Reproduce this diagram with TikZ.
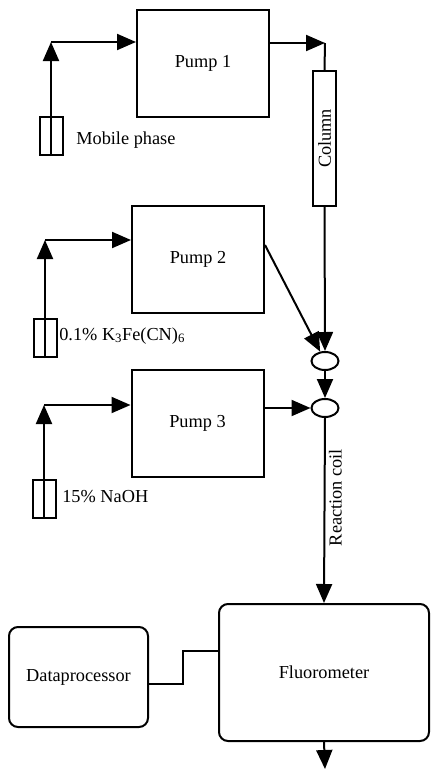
\documentclass[tikz,border=0pt]{standalone}
\usepackage{fontspec}
\setmainfont{Liberation Serif}
\usetikzlibrary{arrows.meta,shapes.geometric}
\tikzset{x=1pt, y=-1pt, >={Triangle[length=19pt,width=16pt]},
    every node/.append style={font=\fontsize{18.3}{22}\selectfont},
    pumpbox/.style={draw, minimum width=132pt, minimum height=107pt, inner sep=0pt},
    bottle/.style={draw, minimum width=23pt, minimum height=38pt, inner sep=0pt},
    mixer/.style={draw, ellipse, minimum width=27pt, minimum height=18pt, inner sep=0pt},
    instrument/.style={draw, rounded corners=9pt, inner sep=0pt}}

\begin{document}
\begin{tikzpicture}[line width=2pt]
                \useasboundingbox (0,0) rectangle (431,771);
                \node[pumpbox] (pump1) at (203,63) {Pump 1};
                \node[pumpbox] (pump2) at (198,259.5) {Pump 2};
                \node[pumpbox] (pump3) at (197.5,423.5) {Pump 3};
                \node[bottle] (bottle1) at (51,136) {};
                \node[bottle] (bottle2) at (45,338) {};
                \node[bottle] (bottle3) at (44,498.5) {};
                \node[right] (phase1) at (72,140) {Mobile phase};
                \node[right] (phase2) at (55,336) {0.1\% K\textsubscript{3}Fe(CN)\textsubscript{6}};
                \node[right] (phase3) at (58,497) {15\% NaOH};
                \node[draw, rotate=90, minimum width=135pt, minimum height=23pt, inner sep=0pt] (column) at (324.5,138.5) {Column};
                \node[mixer] (mix1) at (325,361) {};
                \node[mixer] (mix2) at (325,408) {};
                \node[instrument, minimum width=210pt, minimum height=137pt] (fluoro) at (324,672.5) {Fluorometer};
                \node[instrument, minimum width=139pt, minimum height=100pt] (dproc) at (78.5,677) {Dataprocessor};
                \coordinate (up1) at (51,42);
                \coordinate (up2) at (45,240);
                \coordinate (up3) at (44,405);
                \coordinate (top) at (325,43);
                \coordinate (jog) at (183,651);
                \coordinate (drain) at (325,769);
                \draw[->] (bottle1.south) -- (up1);
                \draw[->] (up1) -- (pump1.west |- up1);
                \draw[->] (bottle2.south) -- (up2);
                \draw[->] (up2) -- (pump2.west |- up2);
                \draw[->] (bottle3.south) -- (up3);
                \draw[->] (up3) -- (pump3.west |- up3);
                \draw[->] (pump1.east |- top) -- (top);
                \draw (top) -- (column.east);
                \draw[->] (column.west) -- (mix1.north);
                \draw[->] (pump2.east |- 0,245) -- (mix1);
                \draw[->] (mix1.south) -- (mix2.north);
                \draw[->] (pump3.east |- mix2) -- (mix2.west);
                \draw[->] (mix2.south) -- node[pos=0.43, anchor=north, rotate=90] (coil) {Reaction coil} (fluoro.north);
                \draw ([yshift=-7pt]dproc.east) -| (jog) -- (fluoro.west |- jog);
                \draw[->] (fluoro.south) -- (drain);
            \end{tikzpicture}
\end{document}
